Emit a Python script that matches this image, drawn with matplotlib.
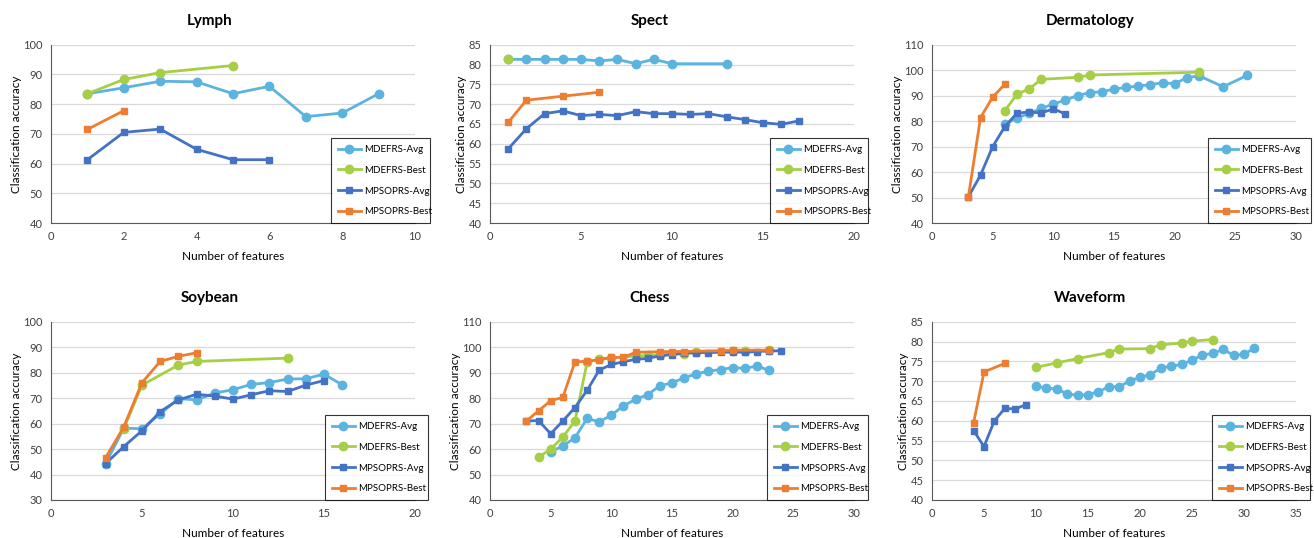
import matplotlib
matplotlib.use("Agg")
import matplotlib.pyplot as plt

plt.rcParams['font.family'] = ['Lato', 'DejaVu Sans']

# colours of the four methods (Excel palette)
c_mde_avg = '#5bb3e0'
c_mde_best = '#a6cf45'
c_pso_avg = '#4472c4'
c_pso_best = '#ed7d31'

# ---- Lymph ----
lymph_mde_avg_x = [1, 2, 3, 4, 5, 6, 7, 8, 9]
lymph_mde_avg_y = [83.5, 85.5, 87.7, 87.5, 83.5, 86.0, 75.8, 77.0, 83.5]
lymph_mde_best_x = [1, 2, 3, 5]
lymph_mde_best_y = [83.5, 88.3, 90.6, 93.0]
lymph_pso_avg_x = [1, 2, 3, 4, 5, 6]
lymph_pso_avg_y = [61.3, 70.5, 71.6, 64.8, 61.3, 61.3]
lymph_pso_best_x = [1, 2]
lymph_pso_best_y = [71.5, 77.8]

# ---- Spect ----
spect_mde_avg_x = [1, 2, 3, 4, 5, 6, 7, 8, 9, 10, 13]
spect_mde_avg_y = [81.3, 81.3, 81.3, 81.3, 81.3, 80.9, 81.3, 80.2, 81.3, 80.2, 80.2]
spect_mde_best_x = [1]
spect_mde_best_y = [81.3]
spect_pso_avg_x = list(range(1, 18))
spect_pso_avg_y = [58.7, 63.8, 67.6, 68.3, 67.1, 67.4, 67.1, 68.1, 67.6, 67.6,
                   67.4, 67.6, 66.8, 66.1, 65.3, 64.9, 65.8]
spect_pso_best_x = [1, 2, 4, 6]
spect_pso_best_y = [65.4, 71.0, 72.0, 73.0]

# ---- Dermatology ----
derm_mde_avg_x = [6, 7, 8, 9, 10, 11, 12, 13, 14, 15, 16, 17, 18, 19, 20, 21, 22, 24, 26]
derm_mde_avg_y = [78.8, 81.2, 83.0, 85.0, 86.7, 88.3, 90.0, 91.2, 91.5, 92.6,
                  93.2, 93.8, 94.3, 95.1, 94.7, 97.0, 97.8, 93.5, 98.0]
derm_mde_best_x = [6, 7, 8, 9, 12, 13, 22]
derm_mde_best_y = [84.0, 90.6, 92.6, 96.4, 97.2, 98.1, 99.2]
derm_pso_avg_x = [3, 4, 5, 6, 7, 8, 9, 10, 11]
derm_pso_avg_y = [50.3, 58.8, 70.0, 77.8, 83.1, 83.6, 83.2, 84.8, 82.8]
derm_pso_best_x = [3, 4, 5, 6]
derm_pso_best_y = [50.3, 81.4, 89.4, 94.5]

# ---- Soybean ----
soy_mde_avg_x = [3, 4, 5, 6, 7, 8, 9, 10, 11, 12, 13, 14, 15, 16]
soy_mde_avg_y = [44.3, 58.2, 58.0, 63.8, 69.8, 69.3, 72.0, 73.3, 75.4, 76.1,
                 77.5, 77.6, 79.4, 75.2]
soy_mde_best_x = [4, 5, 7, 8, 13]
soy_mde_best_y = [58.0, 75.1, 83.0, 84.4, 85.7]
soy_pso_avg_x = [3, 4, 5, 6, 7, 8, 9, 10, 11, 12, 13, 14, 15]
soy_pso_avg_y = [44.3, 51.0, 57.2, 64.7, 69.3, 71.5, 70.8, 69.6, 71.3, 72.9,
                 72.6, 75.1, 76.9]
soy_pso_best_x = [3, 4, 5, 6, 7, 8]
soy_pso_best_y = [46.6, 58.7, 76.1, 84.4, 86.4, 87.8]

# ---- Chess ----
chess_mde_avg_x = list(range(5, 24))
chess_mde_avg_y = [58.9, 61.2, 64.4, 72.0, 70.7, 73.3, 77.0, 79.5, 81.4, 84.8,
                   86.0, 88.0, 89.5, 90.6, 91.2, 92.0, 91.7, 92.6, 90.9]
chess_mde_best_x = [4, 5, 6, 7, 8, 9, 10, 12, 13, 14, 16, 17, 20, 21, 23]
chess_mde_best_y = [56.8, 60.0, 64.7, 71.0, 94.0, 95.5, 95.8, 96.5, 96.8, 97.0,
                    97.5, 98.2, 98.5, 98.5, 98.7]
chess_pso_avg_x = list(range(3, 25))
chess_pso_avg_y = [71.0, 71.2, 66.0, 71.0, 76.3, 83.0, 91.0, 93.2, 94.3, 95.2,
                   95.6, 96.6, 97.1, 97.6, 97.8, 97.9, 98.0, 98.1, 98.0, 98.3,
                   98.5, 98.6]
chess_pso_best_x = [3, 4, 5, 6, 7, 8, 9, 10, 11, 12, 14, 15, 16, 19, 20, 23]
chess_pso_best_y = [71.0, 75.0, 79.0, 80.3, 94.2, 94.5, 95.0, 96.0, 96.0, 98.0,
                    98.2, 98.3, 98.3, 98.6, 98.8, 98.8]

# ---- Waveform ----
wave_mde_avg_x = list(range(10, 32))
wave_mde_avg_y = [68.7, 68.3, 68.0, 66.8, 66.4, 66.6, 67.3, 68.6, 68.6, 70.0,
                  71.0, 71.6, 73.3, 73.8, 74.2, 75.3, 76.6, 77.0, 78.0, 76.5,
                  76.8, 78.3]
wave_mde_best_x = [10, 12, 14, 17, 18, 21, 22, 24, 25, 27]
wave_mde_best_y = [73.5, 74.6, 75.7, 77.2, 78.1, 78.2, 79.2, 79.6, 80.1, 80.5]
wave_pso_avg_x = [4, 5, 6, 7, 8, 9]
wave_pso_avg_y = [57.5, 53.5, 60.0, 63.1, 63.0, 64.0]
wave_pso_best_x = [4, 5, 7]
wave_pso_best_y = [59.5, 72.3, 74.5]

panels = [
    ('Lymph', (0, 10, 2), (40, 100, 10),
     [(lymph_mde_avg_x, lymph_mde_avg_y), (lymph_mde_best_x, lymph_mde_best_y),
      (lymph_pso_avg_x, lymph_pso_avg_y), (lymph_pso_best_x, lymph_pso_best_y)]),
    ('Spect', (0, 20, 5), (40, 85, 5),
     [(spect_mde_avg_x, spect_mde_avg_y), (spect_mde_best_x, spect_mde_best_y),
      (spect_pso_avg_x, spect_pso_avg_y), (spect_pso_best_x, spect_pso_best_y)]),
    ('Dermatology', (0, 30, 5), (40, 110, 10),
     [(derm_mde_avg_x, derm_mde_avg_y), (derm_mde_best_x, derm_mde_best_y),
      (derm_pso_avg_x, derm_pso_avg_y), (derm_pso_best_x, derm_pso_best_y)]),
    ('Soybean', (0, 20, 5), (30, 100, 10),
     [(soy_mde_avg_x, soy_mde_avg_y), (soy_mde_best_x, soy_mde_best_y),
      (soy_pso_avg_x, soy_pso_avg_y), (soy_pso_best_x, soy_pso_best_y)]),
    ('Chess', (0, 30, 5), (40, 110, 10),
     [(chess_mde_avg_x, chess_mde_avg_y), (chess_mde_best_x, chess_mde_best_y),
      (chess_pso_avg_x, chess_pso_avg_y), (chess_pso_best_x, chess_pso_best_y)]),
    ('Waveform', (0, 35, 5), (40, 85, 5),
     [(wave_mde_avg_x, wave_mde_avg_y), (wave_mde_best_x, wave_mde_best_y),
      (wave_pso_avg_x, wave_pso_avg_y), (wave_pso_best_x, wave_pso_best_y)]),
]

labels = ['MDEFRS-Avg', 'MDEFRS-Best', 'MPSOPRS-Avg', 'MPSOPRS-Best']
colors = [c_mde_avg, c_mde_best, c_pso_avg, c_pso_best]
markers = ['o', 'o', 's', 's']
msizes = [6, 6, 5, 5]

W, H = 1314, 538
fig = plt.figure(figsize=(W / 100, H / 100), dpi=100)

col_left = [51, 490, 932]
row_top = [44.7, 321.7]
ax_w, ax_h = 364, 178.3
# legend boxes (left, right) in pixels
leg_lr = [(331, 430), (770, 868), (1208, 1311), (325, 428), (767, 868), (1212, 1310)]
leg_h = [82, 82, 82, 83, 83, 83]

for i, (title, xr, yr, series) in enumerate(panels):
    r, c = divmod(i, 3)
    left = col_left[c]
    top = row_top[r]
    ax = fig.add_axes([left / W, 1 - (top + ax_h) / H, ax_w / W, ax_h / H])
    for (xs, ys), lab, col, mk, ms in zip(series, labels, colors, markers, msizes):
        ax.plot(xs, ys, color=col, lw=2, marker=mk, markersize=ms, label=lab)
    ax.set_xlim(xr[0], xr[1])
    ax.set_ylim(yr[0], yr[1])
    ax.set_xticks(range(xr[0], xr[1] + 1, xr[2]))
    ax.set_yticks(range(yr[0], yr[1] + 1, yr[2]))
    ax.grid(axis='y', color='#d9d9d9', lw=0.9)
    ax.set_axisbelow(True)
    for s in ['top', 'right']:
        ax.spines[s].set_visible(False)
    ax.spines['left'].set_color('#595959')
    ax.spines['bottom'].set_color('#595959')
    ax.tick_params(length=0, labelsize=8, colors='#404040', pad=6)
    ax.set_xlabel('Number of features', fontsize=8.5, labelpad=6)
    ax.set_ylabel('Classification accuracy', fontsize=8.5, labelpad=1)

    # title centred over the whole cell
    cell_center = (c * 440 + 210) / W
    fig.text(cell_center, 1 - (top - 24) / H, title, ha='center', va='center',
             fontsize=11, fontweight='bold')

    l0, l1 = leg_lr[i]
    leg = ax.legend(loc='lower left', mode='expand',
                    bbox_to_anchor=((l0 - left) / ax_w, 0, (l1 - l0) / ax_w, leg_h[i] / ax_h),
                    fontsize=7, frameon=True, fancybox=False, borderaxespad=0,
                    handlelength=2.4, labelspacing=1.2, borderpad=0.7,
                    handletextpad=0.35)
    leg.get_frame().set_edgecolor('black')
    leg.get_frame().set_linewidth(0.8)
    leg.set_zorder(5)

fig.savefig('out.png', dpi=100)
